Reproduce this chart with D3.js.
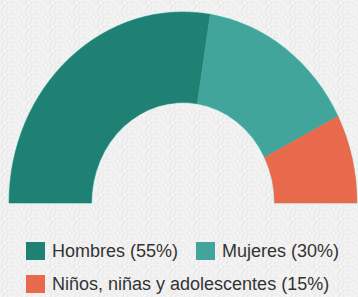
<!DOCTYPE html>
<html>
<head>
<meta charset="utf-8">
<script src="https://cdn.jsdelivr.net/npm/d3@7"></script>
<style>
  html, body { margin: 0; padding: 0; background: #eeeeee; }
  svg { display: block; }
  .lg-text { font-family: "Liberation Sans", Arial, sans-serif; font-size: 18px; fill: #333333; }
</style>
</head>
<body>
<div id="chart"></div>
<script>
// data
const categories = ['Hombres', 'Mujeres', 'Niños, niñas y adolescentes'];
const values = [55, 30, 15];
const colors = ['#1f8074', '#41a59c', '#e8694b'];

const width = 358;
const height = 297;

const svg = d3.select('#chart')
  .append('svg')
  .attr('width', width)
  .attr('height', height);

// faint wave pattern in the background
const defs = svg.append('defs');
const pat = defs.append('pattern')
  .attr('id', 'waves')
  .attr('width', 24)
  .attr('height', 12)
  .attr('patternUnits', 'userSpaceOnUse');
pat.append('rect').attr('width', 24).attr('height', 12).attr('fill', '#efefef');
[12, 8, 4].forEach(function (r) {
  pat.append('circle').attr('cx', 12).attr('cy', 12).attr('r', r)
    .attr('fill', 'none').attr('stroke', '#f7f7f7').attr('stroke-width', 1.2);
  pat.append('circle').attr('cx', 0).attr('cy', 6).attr('r', r)
    .attr('fill', 'none').attr('stroke', '#e8e8e8').attr('stroke-width', 0.8);
});
svg.append('rect')
  .attr('width', width)
  .attr('height', height)
  .attr('fill', 'url(#waves)');

// half donut
const pie = d3.pie()
  .sort(null)
  .startAngle(-Math.PI / 2)
  .endAngle(Math.PI / 2);

const arc = d3.arc()
  .innerRadius(91.5)
  .outerRadius(174);

const g = svg.append('g')
  .attr('transform', 'translate(183,203) scale(1,1.098)');

// light rim round the whole shape, drawn under the slices
g.append('path')
  .attr('d', arc({startAngle: -Math.PI / 2, endAngle: Math.PI / 2}))
  .attr('fill', 'none')
  .attr('stroke', '#dcf3f0')
  .attr('stroke-width', 2.4)
  .attr('stroke-linejoin', 'round');

g.selectAll('path.slice')
  .data(pie(values))
  .enter()
  .append('path')
  .attr('class', 'slice')
  .attr('d', arc)
  .attr('fill', function (d, i) { return colors[i]; })
  .attr('stroke', function (d, i) { return colors[i]; })
  .attr('stroke-width', 0.5);

// legend
const legendPos = [
  {x: 26, y: 242},
  {x: 196, y: 242},
  {x: 26, y: 275}
];

const lg = svg.append('g');
const items = lg.selectAll('g')
  .data(categories)
  .enter()
  .append('g')
  .attr('transform', function (d, i) {
    return 'translate(' + legendPos[i].x + ',' + legendPos[i].y + ')';
  });

items.append('rect')
  .attr('width', 19)
  .attr('height', 18)
  .attr('fill', function (d, i) { return colors[i]; });

items.append('text')
  .attr('class', 'lg-text')
  .attr('x', 26)
  .attr('y', 14.5)
  .text(function (d, i) { return d + ' (' + values[i] + '%)'; });
</script>
</body>
</html>
